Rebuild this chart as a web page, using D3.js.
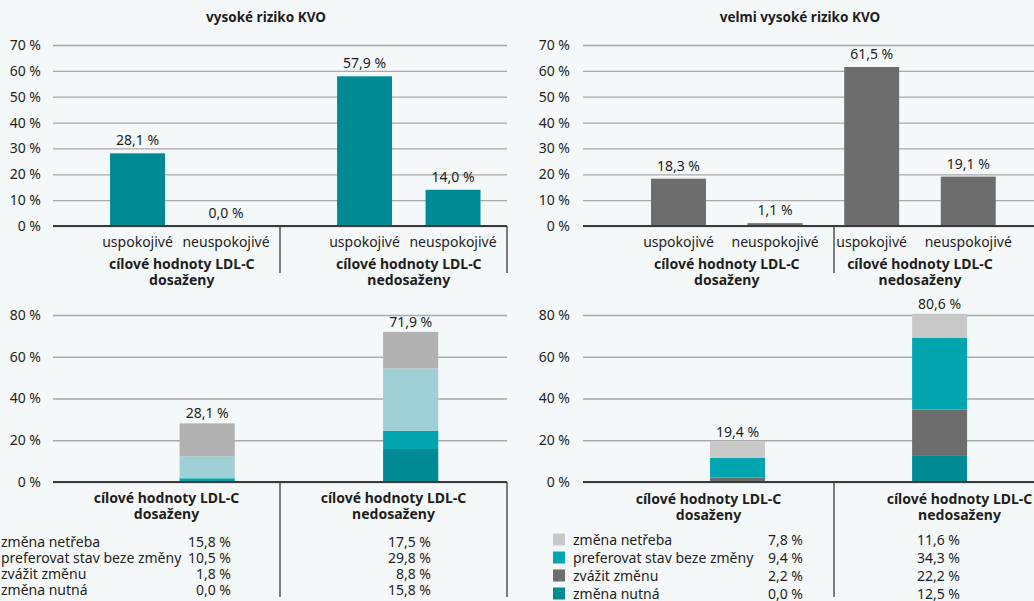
<!DOCTYPE html>
<html>
<head>
<meta charset="utf-8">
<script src="https://cdn.jsdelivr.net/npm/d3@7"></script>
<style>
  body { margin: 0; background: #f5f8f8; }
  svg { display: block; font-family: "Noto Sans", sans-serif; }
  text { fill: #1e1e1e; }
</style>
</head>
<body>
<div id="chart"></div>
<script>
// ---- data ----
var categories = ["uspokojivé", "neuspokojivé"];
var groups = ["dosaženy", "nedosaženy"];
var groupTitle = "cílové hodnoty LDL-C";
var topTicks = [0, 10, 20, 30, 40, 50, 60, 70];
var bottomTicks = [0, 20, 40, 60, 80];

// top: order = dosaženy/uspokojivé, dosaženy/neuspokojivé, nedosaženy/uspokojivé, nedosaženy/neuspokojivé
var highRisk = [28.1, 0.0, 57.9, 14.0];
var veryHighRisk = [18.3, 1.1, 61.5, 19.1];

// bottom: stacked, bottom to top
var seriesNames = ["změna nutná", "zvážit změnu", "preferovat stav beze změny", "změna netřeba"];
var highDosazeny = [0.0, 1.8, 10.5, 15.8];
var highNedosazeny = [15.8, 8.8, 29.8, 17.5];
var veryHighDosazeny = [0.0, 2.2, 9.4, 7.8];
var veryHighNedosazeny = [12.5, 22.2, 34.3, 11.6];

var width = 1034, height = 601;
var pct = function(v) { return d3.format(".1f")(v).replace(".", ",") + " %"; };

var svg = d3.select("#chart").append("svg")
    .attr("width", width)
    .attr("height", height);

svg.append("rect").attr("width", width).attr("height", height).attr("fill", "#f5f8f8");

function yAxis(g, y, left, right, ticks, pad) {
    var ax = g.append("g")
        .attr("transform", "translate(" + left + ",0)")
        .call(d3.axisLeft(y)
            .tickValues(ticks)
            .tickSizeInner(-(right - left))
            .tickSizeOuter(0)
            .tickPadding(pad)
            .tickFormat(function(d) { return d + " %"; }));
    ax.select(".domain").remove();
    ax.selectAll("line").attr("stroke", "#a9a9a9").attr("stroke-width", 1.3);
    ax.selectAll("text").attr("font-size", 14).attr("fill", "#1e1e1e")
        .attr("font-family", "Noto Sans, sans-serif");
}

// two-line bold group label, one text element per line
function groupLabel(g, data, xFn, y0, step) {
    [groupTitle, null].forEach(function(line, li) {
        g.append("g").selectAll("text").data(data).join("text")
            .attr("x", xFn)
            .attr("y", y0 + li * step)
            .attr("text-anchor", "middle")
            .attr("font-size", 14).attr("font-weight", "bold")
            .text(function(d) { return line || d; });
    });
}

function topPanel(o) {
    var g = svg.append("g");
    var y = d3.scaleLinear().domain([0, 70]).range([226, 45]);
    var gx = d3.scaleBand().domain(groups).range([o.left, o.axisEnd]);

    var rows = [];
    groups.forEach(function(gr) {
        categories.forEach(function(c) { rows.push({group: gr, cat: c, key: gr + "|" + c}); });
    });
    rows.forEach(function(d, i) { d.value = o.values[i]; });

    var barX, bw;
    if (o.nested) {
        // same inner band for each group
        var inner = d3.scaleBand().domain(categories).range([0, gx.bandwidth()])
            .paddingInner(o.pi).paddingOuter(o.po).align(o.align);
        barX = function(d) { return gx(d.group) + inner(d.cat); };
        bw = inner.bandwidth();
    } else {
        var flat = d3.scaleBand().domain(rows.map(function(d) { return d.key; }))
            .range([o.left, o.right])
            .paddingInner(o.pi).paddingOuter(o.po).align(o.align);
        barX = function(d) { return flat(d.key); };
        bw = flat.bandwidth();
    }
    var cx = function(d) { return barX(d) + bw / 2; };

    yAxis(g, y, o.left, o.right, topTicks, o.pad);

    g.append("text")
        .attr("x", o.titleX).attr("y", 22)
        .attr("text-anchor", "middle")
        .attr("font-size", 13.5).attr("font-weight", "bold")
        .text(o.title);

    g.append("g").selectAll("rect").data(rows).join("rect")
        .attr("x", barX)
        .attr("y", function(d) { return y(d.value); })
        .attr("width", bw)
        .attr("height", function(d) { return y(0) - y(d.value); })
        .attr("fill", o.color);

    g.append("g").selectAll("text").data(rows).join("text")
        .attr("x", cx)
        .attr("y", function(d) { return y(d.value) - 8; })
        .attr("text-anchor", "middle")
        .attr("font-size", 14)
        .text(function(d) { return pct(d.value); });

    // baseline and category separators
    g.append("line")
        .attr("x1", o.left).attr("x2", o.right)
        .attr("y1", y(0)).attr("y2", y(0))
        .attr("stroke", "#3a3a3a").attr("stroke-width", 2);
    g.append("g").selectAll("line").data(groups.slice(1).concat(["end"])).join("line")
        .attr("x1", function(d) { return d == "end" ? o.axisEnd : gx(d); })
        .attr("x2", function(d) { return d == "end" ? o.axisEnd : gx(d); })
        .attr("y1", y(0)).attr("y2", y(0) + 47)
        .attr("stroke", "#3a3a3a").attr("stroke-width", 1.3);

    g.append("g").selectAll("text").data(rows).join("text")
        .attr("x", cx)
        .attr("y", 247)
        .attr("text-anchor", "middle")
        .attr("font-size", 14)
        .text(function(d) { return d.cat; });

    groupLabel(g, groups, function(gr) {
        var pair = rows.filter(function(d) { return d.group == gr; });
        return (cx(pair[0]) + cx(pair[1])) / 2;
    }, 269, 16);
}

function bottomPanel(o) {
    var g = svg.append("g");
    var y = d3.scaleLinear().domain([0, 80]).range([482, 315]);
    var x = d3.scaleBand().domain(groups).range([o.left, o.right])
        .paddingInner(o.pi).paddingOuter(o.po).align(o.align);
    var gx = d3.scaleBand().domain(groups).range([o.left, o.axisEnd]);

    var table = groups.map(function(gr, i) { return {group: gr, values: o.values[i]}; });
    var stack = d3.stack().keys([0, 1, 2, 3])
        .value(function(d, k) { return d.values[k]; });
    var layers = stack(table);

    yAxis(g, y, o.left, o.right, bottomTicks, o.pad);

    g.append("g").selectAll("g").data(layers).join("g")
        .attr("fill", function(d, i) { return o.colors[i]; })
        .selectAll("rect").data(function(d) { return d; }).join("rect")
        .attr("x", function(d) { return x(d.data.group); })
        .attr("y", function(d) { return y(d[1]); })
        .attr("width", x.bandwidth())
        .attr("height", function(d) { return y(d[0]) - y(d[1]); });

    g.append("g").selectAll("text").data(table).join("text")
        .attr("x", function(d) { return x(d.group) + x.bandwidth() / 2; })
        .attr("y", function(d) { return y(d3.sum(d.values)) - 5; })
        .attr("text-anchor", "middle")
        .attr("font-size", 14)
        .text(function(d) { return pct(d3.sum(d.values)); });

    g.append("line")
        .attr("x1", o.left).attr("x2", o.right)
        .attr("y1", y(0)).attr("y2", y(0))
        .attr("stroke", "#3a3a3a").attr("stroke-width", 2);
    g.append("g").selectAll("line").data(groups.slice(1).concat(["end"])).join("line")
        .attr("x1", function(d) { return d == "end" ? o.axisEnd : gx(d); })
        .attr("x2", function(d) { return d == "end" ? o.axisEnd : gx(d); })
        .attr("y1", y(0)).attr("y2", 597)
        .attr("stroke", "#3a3a3a").attr("stroke-width", 1.3);

    groupLabel(g, groups, function(d) { return gx(d) + gx.bandwidth() / 2; }, o.labelY, 15.5);

    // legend with values, top row = last series
    var order = [3, 2, 1, 0];
    var leg = g.append("g").selectAll("g").data(order).join("g")
        .attr("transform", function(d, i) { return "translate(0," + (o.legY + i * o.legStep) + ")"; });
    if (o.swatch) {
        leg.append("rect")
            .attr("x", o.legX - 20).attr("y", -11)
            .attr("width", 12).attr("height", 12)
            .attr("fill", function(d) { return o.colors[d]; });
    }
    leg.append("text")
        .attr("x", o.legX)
        .attr("font-size", 14)
        .text(function(d) { return seriesNames[d]; });
    groups.forEach(function(gr, gi) {
        leg.append("text")
            .attr("x", o.valX[gi])
            .attr("text-anchor", "end")
            .attr("font-size", 14)
            .text(function(d) { return pct(o.values[gi][d]); });
    });
}

topPanel({
    title: "vysoké riziko KVO", titleX: 266,
    values: highRisk, color: "#008b94",
    left: 53, right: 507, axisEnd: 507, pad: 12,
    nested: true, pi: 0.379, po: 0.472, align: 0.683
});
topPanel({
    title: "velmi vysoké riziko KVO", titleX: 800,
    values: veryHighRisk, color: "#6d6d6d",
    left: 583, right: 1034, axisEnd: 1085, pad: 13,
    nested: false, pi: 0.431, po: 0.55, align: 0.64
});

bottomPanel({
    values: [highDosazeny, highNedosazeny],
    colors: ["#008b94", "#00a5b0", "#9fd0d6", "#b1b1b1"],
    left: 53, right: 507, axisEnd: 507, pad: 12,
    pi: 0.729, po: 0.48, align: 0.648,
    labelY: 503,
    legX: 1, legY: 547, legStep: 16, valX: [231, 431], swatch: false
});
bottomPanel({
    values: [veryHighDosazeny, veryHighNedosazeny],
    colors: ["#008b94", "#6d6d6d", "#00a5b0", "#c8c8c8"],
    left: 583, right: 1034, axisEnd: 1085, pad: 13,
    pi: 0.728, po: 0.48, align: 0.655,
    labelY: 504,
    legX: 573, legY: 544.5, legStep: 18, valX: [803, 960], swatch: true
});
</script>
</body>
</html>
